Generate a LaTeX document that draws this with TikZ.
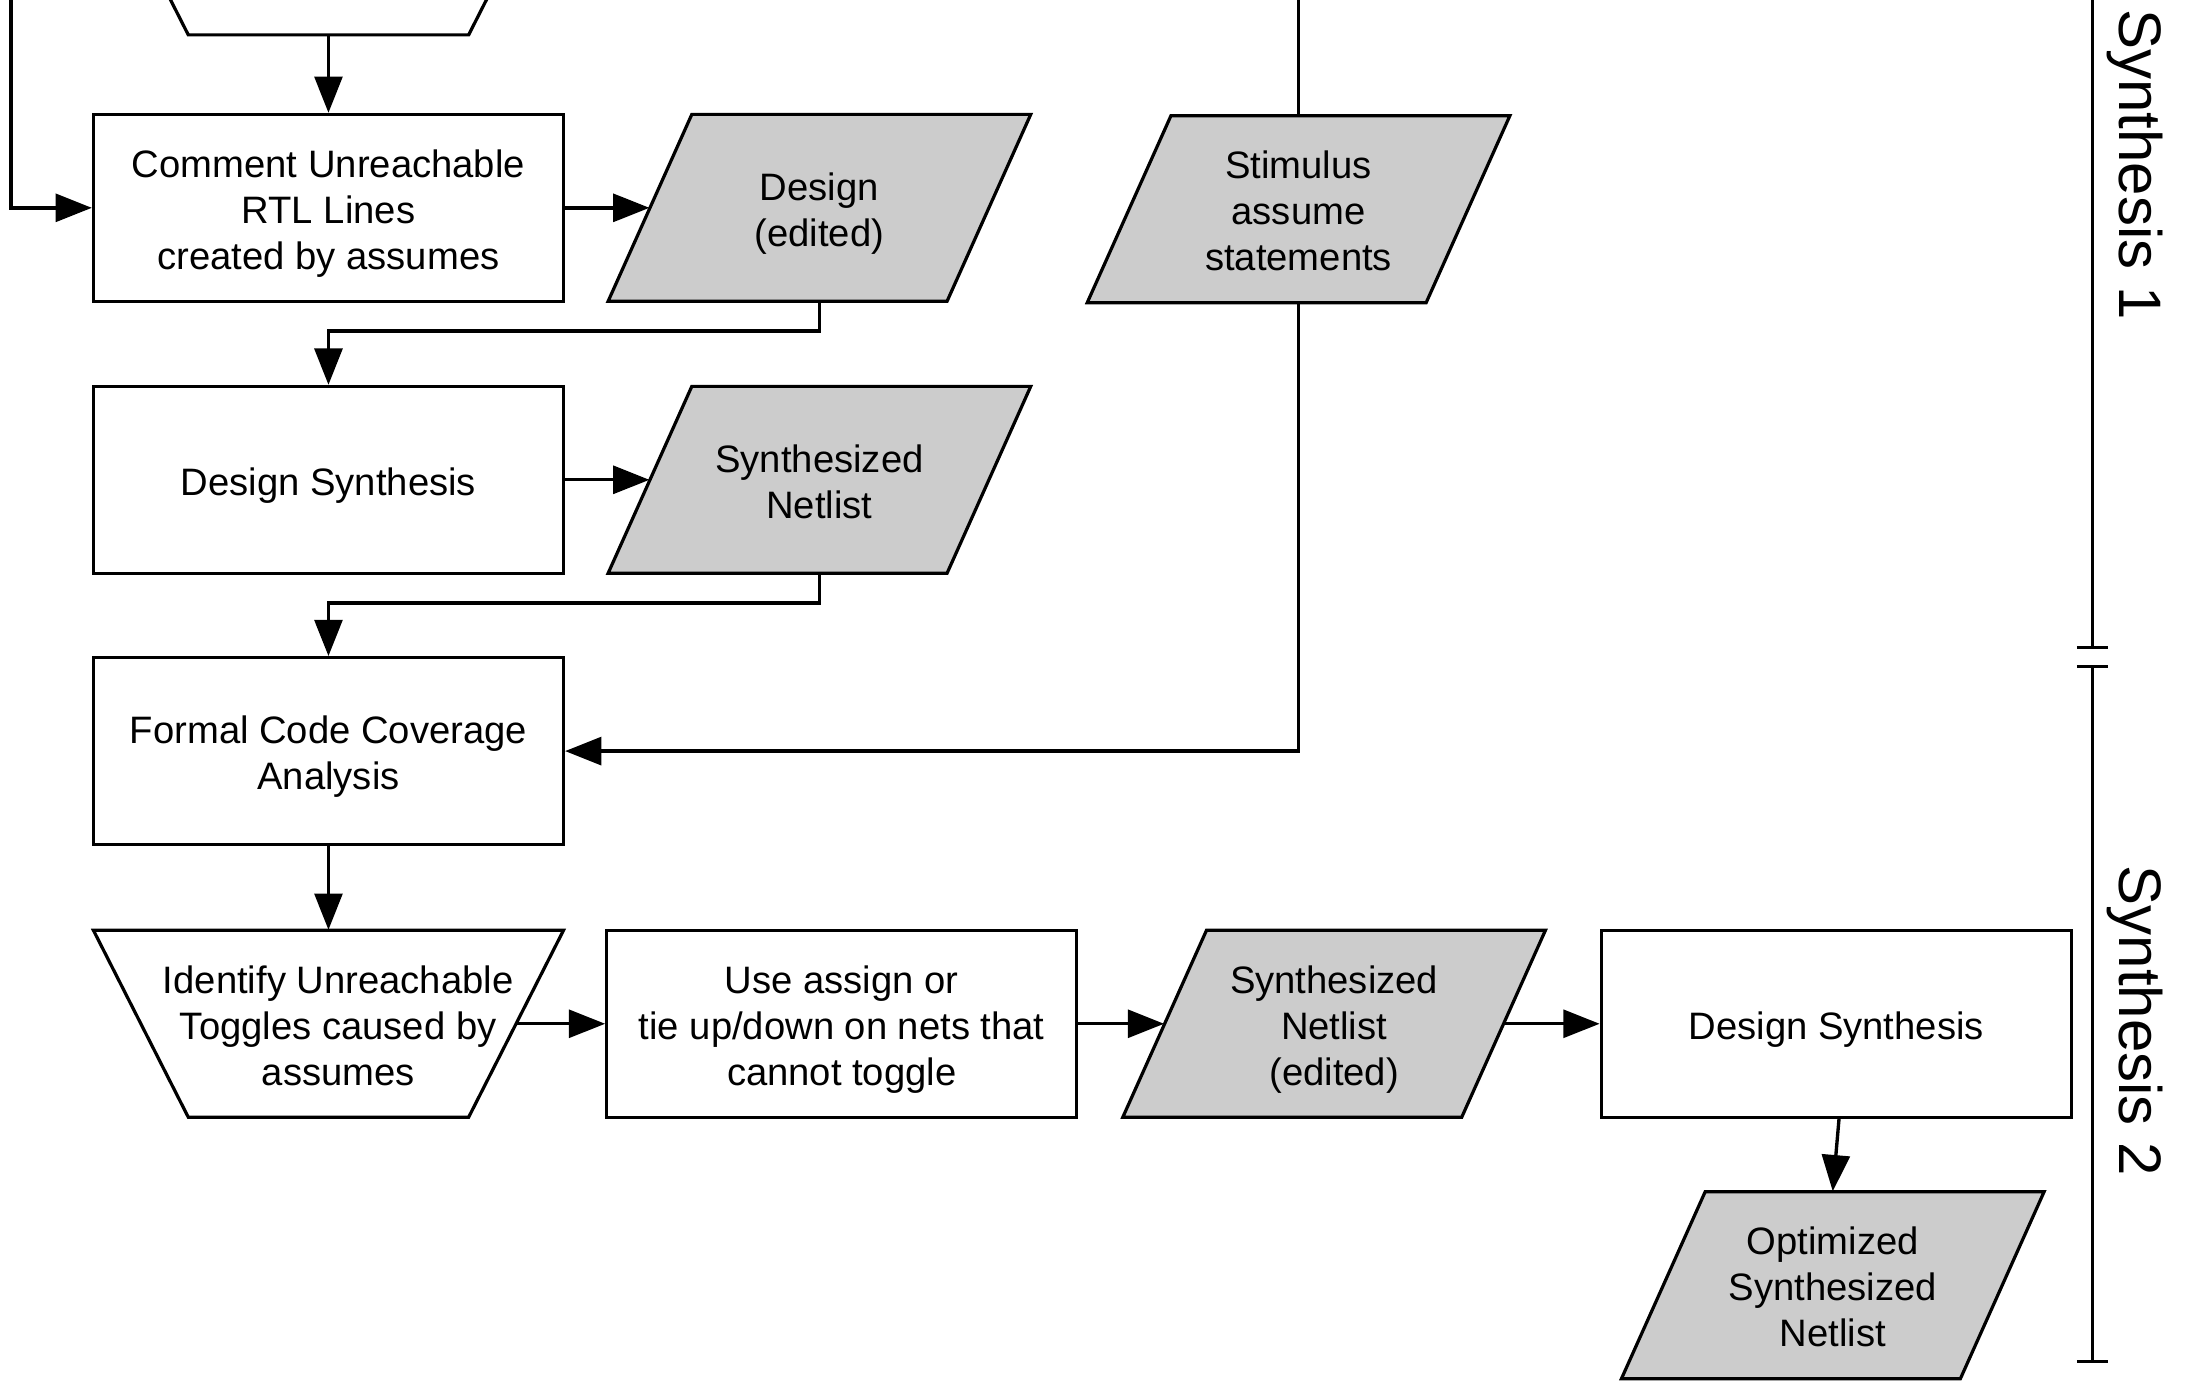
\documentclass[tikz,border=0pt]{standalone}
\usepackage{fontspec}
\setmainfont{Liberation Sans}
\usetikzlibrary{arrows.meta,calc}
\definecolor{datagray}{HTML}{CCCCCC}
\newcommand\bxfont{\fontsize{13.7}{16.5}\selectfont}
\newcommand\synfont{\fontsize{21.5}{24}\selectfont}
% text lowered a little, box size unchanged
\newcommand\tx[1]{\raisebox{-2.3pt}[\height][\depth]{\begin{tabular}{@{}c@{}}#1\end{tabular}}}
% data (parallelogram) shape: name, cx, cy, text
\newcommand\DataShape[4]{%
  \draw[shapeline, fill=datagray] (#2-91.5,#3-67) -- (#2+151.5,#3-67) -- (#2+91.5,#3+67) -- (#2-151.5,#3+67) -- cycle;
  \node[inv, minimum width=121.5pt] (#1) at (#2,#3) {\tx{#4}};}
% inverted trapezoid: name, cx, cy, text
\newcommand\TrapShape[4]{%
  \draw[shapeline] (#2-168.5,#3-67) -- (#2+168.5,#3-67) -- (#2+100.5,#3+67) -- (#2-100.5,#3+67) -- cycle;
  \node[inv, minimum width=134.5pt] (#1) at (#2,#3) {\tx{#4}};}
\begin{document}
\begin{tikzpicture}[x=0.5pt,y=-0.5pt,
  shapeline/.style={line width=1.15pt, line join=miter},
  proc/.style={draw, line width=1.15pt, minimum width=168.5pt, minimum height=67pt, inner sep=0pt, font=\bxfont},
  inv/.style={inner sep=0pt, minimum height=67pt, font=\bxfont},
  conn/.style={line width=1.2pt},
  arr/.style={line width=1.2pt, -{Triangle[length=13pt,width=10pt]}},
  lab/.style={rotate=-90, font=\synfont, inner sep=0pt}]
\useasboundingbox (0,0) rectangle (1568,991);
\clip (0,0) rectangle (1568,991);

% shapes
\TrapShape{topsh}{235.5}{-42}{}
\node[proc] (box1) at (235.5,149) {\tx{Comment Unreachable\\RTL Lines\\created by assumes}};
\DataShape{design}{587.5}{149}{Design\\(edited)}
\DataShape{stim}{931}{150}{Stimulus\\assume\\statements}
\node[proc] (box2) at (235.5,344) {\tx{Design Synthesis}};
\DataShape{syn1}{587.5}{344}{Synthesized\\Netlist}
\node[proc] (box3) at (235.5,538.5) {\tx{Formal Code Coverage\\Analysis}};
\TrapShape{ident}{235.5}{734}{\hspace*{7pt}Identify Unreachable\\\hspace*{7pt}Toggles caused by\\\hspace*{7pt}assumes}
\node[proc] (use) at (603.5,734) {\tx{Use assign or\\tie up/down on nets that\\cannot toggle}};
\DataShape{syn2}{956.5}{734}{Synthesized\\Netlist\\(edited)}
\node[proc] (ds2) at (1316.5,734) {\tx{Design Synthesis}};
\DataShape{opt}{1314}{921.5}{Optimized\\Synthesized\\Netlist}

% connectors
\coordinate (lt) at (8,-5);
\coordinate (st) at (931,-5);
\draw[arr] (lt) |- (box1.west);
\draw[arr] (topsh.south) -- (box1.north);
\draw[arr] (box1.east) -- (design.west);
\draw[arr] (design.south) -- ++(0,21) -| (box2.north);
\draw[arr] (box2.east) -- (syn1.west);
\draw[arr] (syn1.south) -- ++(0,21) -| (box3.north);
\draw[conn] (stim.north) -- (st);
\draw[arr] (stim.south) |- (box3.east);
\draw[arr] (box3.south) -- (ident.north);
\draw[arr] (ident.east) -- (use.west);
\draw[arr] (use.east) -- (syn2.west);
\draw[arr] (syn2.east) -- (ds2.west);
\draw[arr] ([xshift=1pt]ds2.south) -- (opt.north);

% brackets
\coordinate (b1a) at (1500,-5);
\coordinate (b1b) at (1500,464);
\coordinate (b2a) at (1500,478);
\coordinate (b2b) at (1500,976);
\draw[conn] (b1a) -- (b1b);
\draw[conn] ($(b1b)+(-11,0)$) -- ($(b1b)+(11,0)$);
\draw[conn] (b2a) -- (b2b);
\draw[conn] ($(b2a)+(-11,0)$) -- ($(b2a)+(11,0)$);
\draw[conn] ($(b2b)+(-11,0)$) -- ($(b2b)+(11,0)$);
\node[lab] (syn1lab) at (1531,118) {Synthesis 1};
\node[lab] (syn2lab) at (1531,732) {Synthesis 2};
\end{tikzpicture}
\end{document}
